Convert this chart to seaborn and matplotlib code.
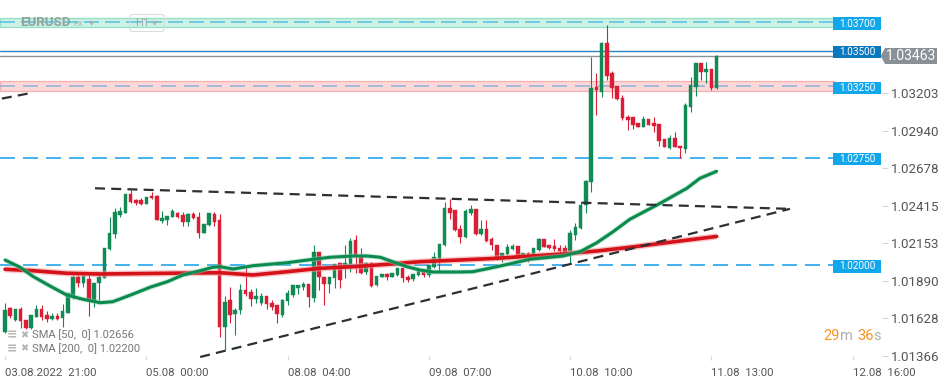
import numpy as np
import pandas as pd
import matplotlib
matplotlib.use("Agg")
import matplotlib.pyplot as plt
from matplotlib.patches import Rectangle, Polygon, FancyBboxPatch
import seaborn as sns

# ---------------- data (EURUSD, H1) ----------------
opens = [1.01533, 1.01697, 1.01615, 1.01690, 1.01615, 1.01557, 1.01638, 1.01690, 1.01650, 1.01620,
         1.01643, 1.01627, 1.01666, 1.01778, 1.01914, 1.01872, 1.01902, 1.01743, 1.01872, 1.01907,
         1.02112, 1.02217, 1.02350, 1.02366, 1.02497, 1.02455, 1.02455, 1.02427, 1.02483, 1.02483,
         1.02310, 1.02315, 1.02334, 1.02362, 1.02350, 1.02303, 1.02357, 1.02334, 1.02226, 1.02280,
         1.02357, 1.02315, 1.01568, 1.01755, 1.01655, 1.01685, 1.01825, 1.01813, 1.01760, 1.01732,
         1.01783, 1.01732, 1.01720, 1.01650, 1.01750, 1.01790, 1.01841, 1.01848, 1.01867, 1.01767,
         1.02089, 1.01918, 1.01867, 1.01907, 1.02012, 1.01988, 1.02007, 1.02175, 1.02054, 1.01953,
         1.02016, 1.01860, 1.01914, 1.01937, 1.01918, 1.01930, 1.01981, 1.01918, 1.01902, 1.01930,
         1.01953, 1.01930, 1.01988, 1.02040, 1.02140, 1.02397, 1.02385, 1.02250, 1.02194, 1.02362,
         1.02390, 1.02215, 1.02250, 1.02180, 1.02140, 1.02040, 1.02077, 1.02112, 1.02133, 1.02058,
         1.02082, 1.02070, 1.02105, 1.02180, 1.02140, 1.02133, 1.02117, 1.02117, 1.02100, 1.02210,
         1.02257, 1.02420, 1.02579, 1.03248, 1.03213, 1.03552, 1.03342, 1.03253, 1.03167, 1.03038,
         1.03034, 1.02996, 1.02968, 1.03020, 1.02996, 1.02985, 1.02880, 1.02821, 1.02887, 1.02833,
         1.02810, 1.03108, 1.03248, 1.03412, 1.03349, 1.03372, 1.03241]
highs = [1.01734, 1.01708, 1.01692, 1.01708, 1.01618, 1.01650, 1.01720, 1.01720, 1.01680, 1.01662,
         1.01662, 1.01727, 1.01802, 1.01930, 1.01937, 1.01953, 1.01944, 1.01876, 1.01942, 1.02117,
         1.02336, 1.02399, 1.02408, 1.02497, 1.02525, 1.02460, 1.02469, 1.02478, 1.02513, 1.02490,
         1.02380, 1.02343, 1.02390, 1.02373, 1.02373, 1.02366, 1.02373, 1.02373, 1.02287, 1.02362,
         1.02373, 1.02357, 1.01783, 1.01846, 1.01697, 1.01867, 1.01988, 1.01830, 1.01837, 1.01802,
         1.01783, 1.01755, 1.01720, 1.01760, 1.01825, 1.01860, 1.01860, 1.01883, 1.01867, 1.02140,
         1.02089, 1.01918, 1.01918, 1.02007, 1.02012, 1.02140, 1.02187, 1.02210, 1.02117, 1.02023,
         1.02023, 1.01923, 1.01937, 1.01942, 1.01942, 1.01981, 1.01981, 1.01930, 1.01935, 1.01965,
         1.01965, 1.02000, 1.02093, 1.02147, 1.02441, 1.02462, 1.02385, 1.02280, 1.02392, 1.02420,
         1.02390, 1.02315, 1.02315, 1.02198, 1.02140, 1.02086, 1.02147, 1.02147, 1.02133, 1.02086,
         1.02093, 1.02117, 1.02187, 1.02180, 1.02140, 1.02180, 1.02140, 1.02140, 1.02245, 1.02296,
         1.02443, 1.02595, 1.03458, 1.03344, 1.03563, 1.03680, 1.03358, 1.03253, 1.03190, 1.03050,
         1.03034, 1.02996, 1.03043, 1.03020, 1.03034, 1.02985, 1.02880, 1.02910, 1.02933, 1.02833,
         1.03132, 1.03318, 1.03412, 1.03412, 1.03419, 1.03372, 1.03470]
lows = [1.01524, 1.01627, 1.01611, 1.01557, 1.01550, 1.01552, 1.01634, 1.01615, 1.01603, 1.01615,
        1.01615, 1.01568, 1.01662, 1.01760, 1.01844, 1.01848, 1.01643, 1.01708, 1.01743, 1.01907,
        1.02105, 1.02189, 1.02338, 1.02362, 1.02432, 1.02420, 1.02420, 1.02425, 1.02460, 1.02315,
        1.02296, 1.02280, 1.02334, 1.02327, 1.02273, 1.02273, 1.02320, 1.02187, 1.02222, 1.02273,
        1.02273, 1.01496, 1.01405, 1.01594, 1.01510, 1.01657, 1.01783, 1.01713, 1.01732, 1.01720,
        1.01690, 1.01685, 1.01592, 1.01638, 1.01720, 1.01778, 1.01797, 1.01825, 1.01708, 1.01743,
        1.01825, 1.01720, 1.01806, 1.01837, 1.01837, 1.01909, 1.01953, 1.01942, 1.01937, 1.01937,
        1.01848, 1.01853, 1.01914, 1.01895, 1.01916, 1.01926, 1.01883, 1.01883, 1.01888, 1.01926,
        1.01914, 1.01914, 1.01977, 1.01953, 1.02136, 1.02322, 1.02240, 1.02154, 1.02189, 1.02350,
        1.02210, 1.02210, 1.02163, 1.02105, 1.02035, 1.02023, 1.02070, 1.02105, 1.02047, 1.02054,
        1.02023, 1.02063, 1.02100, 1.02124, 1.02110, 1.02100, 1.02070, 1.02070, 1.02016, 1.02175,
        1.02250, 1.02362, 1.02511, 1.03050, 1.03178, 1.03295, 1.03169, 1.03155, 1.03015, 1.02945,
        1.02952, 1.02968, 1.02968, 1.02980, 1.02933, 1.02835, 1.02824, 1.02812, 1.02824, 1.02751,
        1.02782, 1.03073, 1.03185, 1.03295, 1.03272, 1.03225, 1.03232]
closes = [1.01685, 1.01643, 1.01690, 1.01610, 1.01557, 1.01650, 1.01690, 1.01638, 1.01620, 1.01643,
          1.01620, 1.01678, 1.01802, 1.01918, 1.01876, 1.01923, 1.01755, 1.01876, 1.01918, 1.02117,
          1.02224, 1.02371, 1.02380, 1.02497, 1.02443, 1.02432, 1.02427, 1.02478, 1.02467, 1.02315,
          1.02327, 1.02343, 1.02380, 1.02338, 1.02303, 1.02357, 1.02327, 1.02226, 1.02287, 1.02362,
          1.02303, 1.01568, 1.01743, 1.01650, 1.01685, 1.01825, 1.01797, 1.01760, 1.01783, 1.01783,
          1.01727, 1.01708, 1.01655, 1.01755, 1.01806, 1.01860, 1.01860, 1.01867, 1.01774, 1.02089,
          1.01914, 1.01865, 1.01918, 1.02005, 1.01895, 1.02012, 1.02168, 1.02070, 1.01946, 1.02016,
          1.01853, 1.01923, 1.01937, 1.01914, 1.01942, 1.01981, 1.01907, 1.01895, 1.01935, 1.01965,
          1.01930, 1.02000, 1.02054, 1.02147, 1.02397, 1.02366, 1.02245, 1.02198, 1.02378, 1.02390,
          1.02215, 1.02250, 1.02170, 1.02140, 1.02047, 1.02082, 1.02128, 1.02133, 1.02054, 1.02086,
          1.02054, 1.02117, 1.02180, 1.02128, 1.02117, 1.02110, 1.02100, 1.02093, 1.02222, 1.02268,
          1.02420, 1.02588, 1.03241, 1.03225, 1.03552, 1.03325, 1.03241, 1.03162, 1.03031, 1.03015,
          1.02980, 1.02968, 1.03020, 1.02980, 1.02973, 1.02870, 1.02824, 1.02887, 1.02824, 1.02817,
          1.03120, 1.03260, 1.03412, 1.03353, 1.03372, 1.03241, 1.03463]

sma50_idx = [0, 2.9, 5.35, 8.6, 11.8, 14.9, 18.2, 20.6, 24.5, 27.7, 31.0, 34.0, 37.3, 39.7, 41.1,
             43.6, 47.4, 53.9, 58.9, 62.1, 66.5, 69.2, 71.7, 74.1, 76.8, 79.3, 81.8, 87.0, 89.4,
             94.0, 100.3, 106.6, 109.9, 113.1, 116.2, 119.4, 125.2, 130.3, 132.8, 136.0]
sma50 = [1.02035, 1.01984, 1.01920, 1.01853, 1.01790, 1.01760, 1.01736, 1.01743, 1.01797, 1.01844,
         1.01883, 1.01930, 1.01960, 1.01984, 1.01988, 1.01972, 1.01995, 1.02016, 1.02040, 1.02054,
         1.02063, 1.02063, 1.02054, 1.02023, 1.01988, 1.01965, 1.01951, 1.01951, 1.01953, 1.01988,
         1.02040, 1.02063, 1.02093, 1.02156, 1.02233, 1.02320, 1.02432, 1.02537, 1.02607, 1.02656]
sma200_idx = [0, 5.35, 11.85, 18.15, 31.0, 41.1, 47.4, 53.9, 60.2, 66.5, 73.0, 79.3, 86.9, 94.0,
              106.6, 113.1, 119.4, 136.0]
sma200 = [1.01970, 1.01960, 1.01942, 1.01937, 1.01942, 1.01946, 1.01930, 1.01953, 1.01977, 1.01988,
          1.02005, 1.02023, 1.02035, 1.02047, 1.02077, 1.02098, 1.02124, 1.02200]

# trend lines (candle index, price)
trend_upper_x = [17.2, 150.0]
trend_upper_y = [1.02537, 1.02393]
trend_lower_x = [37.3, 150.0]
trend_lower_y = [1.01356, 1.02393]
trend_short_x = [-0.6, 4.4]
trend_short_y = [1.03165, 1.03200]

# levels
zone_green = (1.03668, 1.03727)
zone_red = (1.03220, 1.03288)
level_values = [1.03700, 1.03500, 1.03250, 1.02750, 1.02000]
level_labels = ["1.03700", "1.03500", "1.03250", "1.02750", "1.02000"]
last_price = 1.03463

ytick_values = [1.03203, 1.02940, 1.02678, 1.02415, 1.02153, 1.01890, 1.01628, 1.01366]
ytick_labels = ["1.03203", "1.02940", "1.02678", "1.02415", "1.02153", "1.01890", "1.01628", "1.01366"]
xtick_idx = [0, 27, 54, 81, 108, 135, 162]
xtick_labels = ["03.08.2022  21:00", "05.08  00:00", "08.08  04:00", "09.08  07:00",
                "10.08  10:00", "11.08  13:00", "12.08  16:00"]

# ---------------- style ----------------
sns.set_theme(style="white")
plt.rcParams["font.family"] = ["Roboto", "DejaVu Sans"]

GREEN = "#118a55"
RED = "#d91e36"
W, H = 949, 381
fig = plt.figure(figsize=(W / 100, H / 100), dpi=100)
ax = fig.add_axes([0, 21 / H, 882 / W, 360 / H])
for s in ax.spines.values():
    s.set_visible(False)

px = 5.233  # pixels per candle
x0 = -5 / px
ax.set_xlim(x0, x0 + 882 / px)
ytop = 1.03855
ax.set_ylim(ytop - 0.00007 * 360, ytop)

x_end = (833 - 5) / px
zone_end = (834 - 5) / px

# zones
ax.add_patch(Rectangle((x0, zone_green[0]), zone_end - x0, zone_green[1] - zone_green[0],
                       fc="#cbf2e3", ec="#93e0c3", lw=0.9, zorder=1))
ax.add_patch(Rectangle((x0, zone_red[0]), zone_end - x0, zone_red[1] - zone_red[0],
                       fc="#fcd8d8", ec="#f5b0b0", lw=0.9, zorder=1))

# level lines
ax.plot([x0, x_end], [level_values[0]] * 2, color="#62c3e6", lw=1.2, ls=(0, (9, 3.6)), zorder=2)
ax.plot([x0, x_end], [level_values[1]] * 2, color="#2c84c6", lw=1.0, zorder=2)
ax.plot([x0, x_end], [level_values[2]] * 2, color="#93b6de", lw=1.2, ls=(0, (9, 4.8)), zorder=2)
ax.plot([x0, x_end], [level_values[3]] * 2, color="#22a5ea", lw=1.2, ls=(0, (9, 4.8)), zorder=2)
ax.plot([x0, x_end], [level_values[4]] * 2, color="#22a5ea", lw=1.2, ls=(0, (9, 4.8)), zorder=2)
ax.plot([x0, (880 - 5) / px], [last_price] * 2, color="#8b9399", lw=1.0, zorder=2)

# candles
df = pd.DataFrame({"o": opens, "h": highs, "l": lows, "c": closes})
df["i"] = np.arange(len(df))
df["up"] = df["c"] >= df["o"]
colors = np.where(df["up"], GREEN, RED)
ax.vlines(df["i"], df["l"], df["h"], colors=colors, lw=0.8, zorder=3)
body = np.maximum((df["c"] - df["o"]).abs(), 0.00005)
ax.bar(df["i"], body, bottom=np.minimum(df["o"], df["c"]), width=0.68,
       color=colors, edgecolor=colors, lw=0.3, zorder=3)

# moving averages
ax.plot(sma200_idx, sma200, color="#f19a9a", lw=4.6, alpha=0.55, solid_capstyle="butt",
        solid_joinstyle="round", zorder=4)
sns.lineplot(x=sma200_idx, y=sma200, ax=ax, color="#d5111a", lw=2.6, zorder=4, sort=False)
ax.plot(sma50_idx, sma50, color="#8fd0b0", lw=3.6, alpha=0.5, solid_capstyle="butt",
        solid_joinstyle="round", zorder=4)
sns.lineplot(x=sma50_idx, y=sma50, ax=ax, color="#0b8a4f", lw=2.2, zorder=4, sort=False)
for ln in ax.get_lines():
    ln.set_solid_joinstyle("round")

# trend lines
for tx, ty in [(trend_upper_x, trend_upper_y), (trend_lower_x, trend_lower_y),
               (trend_short_x, trend_short_y)]:
    ax.plot(tx, ty, color="#2c3034", lw=1.6, ls=(0, (4.5, 2.8)), zorder=5)

# level label boxes
box_x0 = (833 - 5) / px
box_x1 = (881 - 5) / px
box_h = 0.00086
for v, lab in zip(level_values, level_labels):
    fc = "#0b78be" if lab == "1.03500" else "#12a7ea"
    yc = v - 0.0001
    ax.add_patch(Rectangle((box_x0, yc - box_h / 2), box_x1 - box_x0, box_h,
                           fc=fc, ec="none", zorder=6, clip_on=False))
    ax.text((box_x0 + box_x1) / 2, yc, lab, color="white", fontsize=7.2,
            ha="center", va="center", zorder=7, clip_on=False)

# last price tag
tip = (880.7 - 5) / px
bx0 = (885 - 5) / px
bx1 = (937 - 5) / px
hh = 0.00056
ax.add_patch(Polygon([(tip, last_price), (bx0, last_price + hh), (bx1, last_price + hh),
                      (bx1, last_price - hh), (bx0, last_price - hh)], closed=True,
                     fc="#8a9196", ec="none", zorder=7, clip_on=False))
ax.text((bx0 + bx1) / 2, last_price, f"{last_price:.5f}", color="white", fontsize=10,
        ha="center", va="center", zorder=8, clip_on=False)

# axes ticks
ax.yaxis.tick_right()
ax.set_yticks(ytick_values)
ax.set_yticklabels(ytick_labels)
ax.tick_params(axis="y", which="both", right=True, left=False, length=4, width=0.8,
               color="#d6d6d6", pad=2.5, labelsize=9.6, labelcolor="#555555")
ax.set_xticks(xtick_idx)
ax.set_xticklabels(xtick_labels)
for t in ax.get_xticklabels():
    t.set_horizontalalignment("left")
ax.tick_params(axis="x", bottom=True, direction="in", length=3, width=0.8, color="#d6d6d6",
               pad=6, labelsize=8.2, labelcolor="#555555")
ax.grid(False)

# header (faded)
def fy(y):
    return 1 - y / H
fig.text(20 / W, fy(23), "EURUSD", fontsize=9.5, fontweight="bold", color="#8fa3a0",
         va="center", zorder=9)
fig.text(73 / W, fy(24), "FX", fontsize=6, color="#a8b0b0", va="center", zorder=9)
fig.text(89 / W, fy(22), "▾", fontsize=7.5, color="#a8b0b0", va="center", zorder=9)
fig.patches.append(FancyBboxPatch((130 / W, fy(31.5)), 34 / W, 17 / H,
                                  boxstyle="round,pad=0,rounding_size=0.004",
                                  transform=fig.transFigure, fc="none", ec="#d8dcdc", lw=0.8))
fig.text(135 / W, fy(23), "H1", fontsize=8, color="#a0aaaa", va="center", zorder=9)
fig.text(152 / W, fy(22.5), "▾", fontsize=7.5, color="#a8b0b0", va="center", zorder=9)

# SMA legend
for y, txt in [(335, "SMA [50,  0] 1.02656"), (348.5, "SMA [200,  0] 1.02200")]:
    fig.text(7 / W, fy(y), "≡", fontsize=9, color="#b5b5b5", va="center", fontweight="bold")
    fig.text(20 / W, fy(y), "✖", fontsize=7, color="#b5b5b5", va="center")
    fig.text(32 / W, fy(y), txt, fontsize=8, color="#777777", va="center")

# countdown
ORANGE = "#f7931e"
for x, t, c in [(823, "29", ORANGE), (840, "m", "#b0b0b0"), (857, "36", ORANGE), (873, "s", "#b0b0b0")]:
    fig.text(x / W, fy(336), t, fontsize=10.5, color=c, va="center")

fig.savefig("out.png", dpi=100)
